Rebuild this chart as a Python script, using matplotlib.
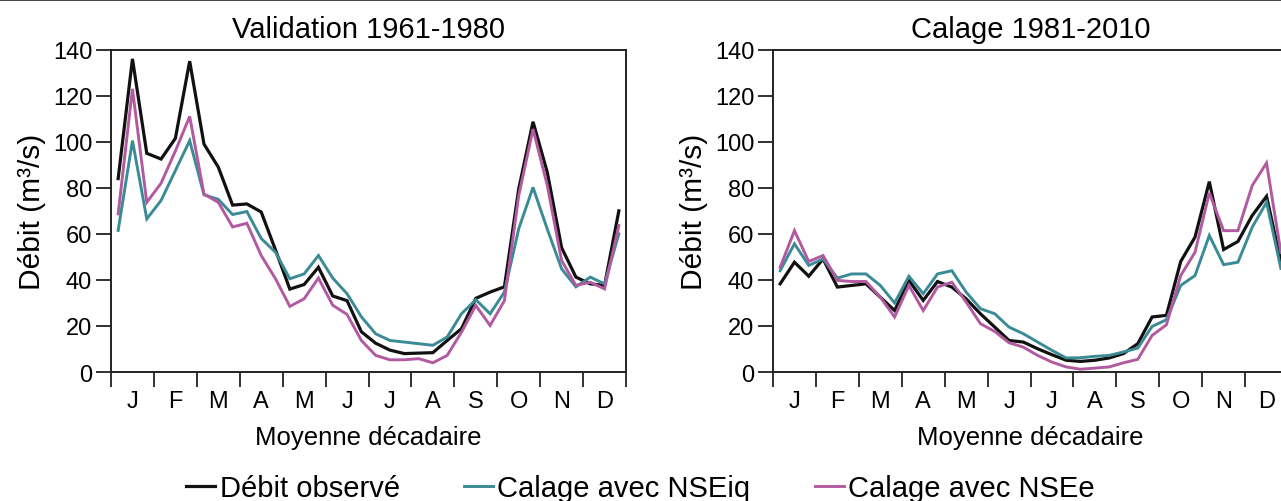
import matplotlib
matplotlib.use("Agg")
import matplotlib.pyplot as plt
from matplotlib.lines import Line2D
import numpy as np

plt.rcParams['font.family'] = ['Liberation Sans', 'DejaVu Sans']

months = ["J", "F", "M", "A", "M", "J", "J", "A", "S", "O", "N", "D"]
titles = ["Validation 1961-1980", "Calage 1981-2010"]
series_names = ["Débit observé", "Calage avec NSEiq", "Calage avec NSEe"]

val_obs = [84, 136, 95, 92.5, 101.5, 135, 99, 89, 72.5, 73, 69.5, 53,
           36, 38, 45.5, 33, 31, 17.5, 12.5, 9.5, 8, 8.2, 8.4, 13.7,
           18.8, 32, 34.7, 37, 79.5, 108.7, 86.7, 54, 41.2, 38.3, 37.6, 70]
val_nseiq = [61.5, 100.5, 66.5, 74.5, 87.5, 100.5, 77, 75, 68.4, 69.7, 58, 52,
             40.5, 42.6, 50.6, 40.8, 34, 24, 16.6, 13.7, 13, 12.3, 11.6, 15.2,
             25.3, 31.4, 25.3, 34.7, 62.2, 80.2, 62, 44.8, 37, 41.2, 38.3, 60]
val_nsee = [68.7, 123, 73.7, 82, 96, 111, 77.3, 73.7, 63, 64.6, 50.6, 40.5,
            28.5, 31.8, 40.8, 29, 25, 13.7, 7.2, 5.3, 5.3, 5.8, 4, 7.2,
            17.3, 28.9, 20.2, 31, 76.6, 105.5, 81, 48.4, 37.6, 39, 36.1, 63.6]

cal_obs = [38.3, 47.7, 41.6, 49.1, 36.9, 37.6, 38.3, 32.5, 26.7, 39.8, 31.1, 39.3,
           36.9, 31.8, 25.3, 19.5, 13.7, 13, 10.1, 7.5, 5.1, 4.6, 5.1, 6.1,
           8, 12.3, 23.9, 24.6, 48, 58.6, 82.7, 53.2, 56.7, 68, 76.3, 48]
cal_nseiq = [44, 55.7, 46.3, 49.1, 40.8, 42.6, 42.6, 37.6, 30, 41.6, 34, 42.6,
             44, 34.7, 27.5, 25.3, 19.5, 16.6, 13, 9.4, 6.1, 6.2, 6.8, 7.2,
             8.7, 10.4, 19.8, 22.7, 37.6, 41.9, 59.3, 46.6, 47.7, 62.9, 73.7, 45]
cal_nsee = [45.5, 61.4, 48, 50.6, 39.8, 39.3, 39.3, 32.5, 23.9, 37.6, 26.7, 36.9,
            39, 30.4, 21, 17.6, 12.7, 10.8, 7.2, 4.3, 2.2, 1.2, 1.7, 2.2,
            4, 5.5, 15.9, 20.5, 41.9, 52, 77.8, 61.4, 61.4, 81, 90.8, 52]

colors = ["#111111", "#3a8b96", "#b25a9f"]
widths = [2.3, 2.1, 2.1]

W, H = 1281, 502
fig = plt.figure(figsize=(W / 100, H / 100), dpi=100)

panels = [(val_obs, val_nseiq, val_nsee), (cal_obs, cal_nseiq, cal_nsee)]
lefts = [111, 773]
ax_w = 515
top, bottom = 50.7, 373

x = np.arange(36) + 0.5
handles = []
for k, (data, left) in enumerate(zip(panels, lefts)):
    ax = fig.add_axes([left / W, 1 - bottom / H, ax_w / W, (bottom - top) / H])
    hs = []
    for s, c, lw, name in zip(data, colors, widths, series_names):
        h, = ax.plot(x, s, color=c, lw=lw, label=name, solid_joinstyle='miter')
        hs.append(h)
    handles = hs
    ax.set_xlim(0, 36)
    ax.set_ylim(0, 140)
    ax.set_yticks(np.arange(0, 141, 20))
    ax.set_xticks(np.arange(0, 37, 3))
    ax.set_xticklabels([])
    ax.set_xticks(np.arange(1.5, 36, 3), minor=True)
    ax.set_xticklabels(months, minor=True)
    ax.tick_params(axis='x', which='major', length=11, width=1.3, direction='out', color='#222222')
    ax.tick_params(axis='x', which='minor', length=0, pad=13, labelsize=17)
    ax.tick_params(axis='y', which='major', length=11, width=1.3, direction='out',
                   color='#222222', pad=2.5, labelsize=17)
    for sp in ax.spines.values():
        sp.set_linewidth(1.4)
        sp.set_color('#222222')
    ax.set_title(titles[k], fontsize=21, pad=9)
    ax.set_xlabel("Moyenne décadaire", fontsize=18.5, labelpad=9)
    ax.set_ylabel("Débit (m³/s)", fontsize=21.5, labelpad=5)

fig.legend(handles, series_names, loc='center', bbox_to_anchor=(0.5, 1 - 489 / H),
           ncol=3, frameon=False, fontsize=21, handlelength=1.0, handletextpad=0.15,
           columnspacing=2.2, borderaxespad=0)

fig.add_artist(Line2D([0, 1], [1 - 0.5 / H, 1 - 0.5 / H], color='#222222', lw=1.2,
                      transform=fig.transFigure))

fig.savefig("out.png", dpi=100)
